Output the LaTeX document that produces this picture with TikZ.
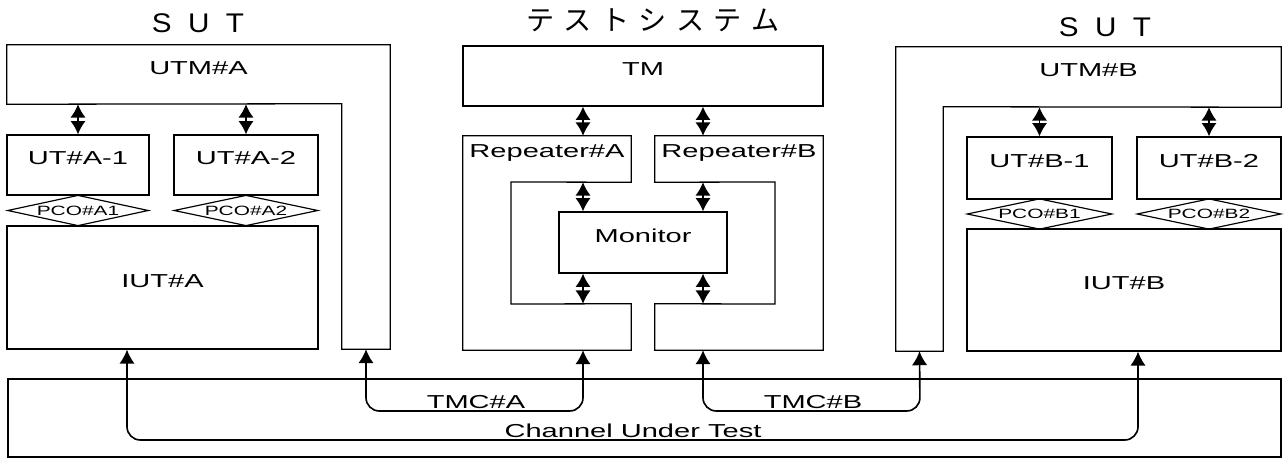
\documentclass[tikz,border=0pt]{standalone}
\usepackage{fontspec}
\setmainfont{Liberation Sans}
\newfontfamily\lblfont[FakeStretch=1.55]{Liberation Sans}
\newfontfamily\ttlfont[FakeStretch=1.1]{Liberation Sans}
\newfontfamily\jpfont{Noto Sans CJK JP}
\usetikzlibrary{shapes.geometric, arrows.meta, fit, calc}

\begin{document}
\begin{tikzpicture}[
    x=0.03cm, y=-0.03cm,
    block/.style={rectangle, draw=black, line width=1.1pt, inner sep=0pt, font=\lblfont\fontsize{16}{19}\selectfont},
    zone/.style={rectangle, draw=none, inner sep=0pt, font=\lblfont\fontsize{16}{19}\selectfont},
    outline/.style={draw=black, line width=1.1pt},
    pco/.style={diamond, draw=black, line width=1pt, inner sep=0pt, minimum height=0.92cm, label={[font=\lblfont\fontsize{11.5}{13}\selectfont]center:#1}},
    title/.style={font=\ttlfont\fontsize{23}{27}\selectfont},
    dblarrow/.style={{Latex[length=4mm,width=4.6mm]}-{Latex[length=4mm,width=4.6mm]}, line width=1.6pt},
    link/.style={{Latex[length=4.2mm,width=4.6mm]}-{Latex[length=4.2mm,width=4.6mm]}, line width=1.4pt, rounded corners=4mm},
    tag/.style={anchor=south, inner sep=2pt, font=\lblfont\fontsize{16}{19}\selectfont}
]
\useasboundingbox (0,0) rectangle (1284,459);

% SUT A
\node[title] (sutA) at (198,23) {S\hspace{14pt}U\hspace{14pt}T};
\node[zone, fit={(7,45)(390,104)}] (utmA) {UTM\#A};
\node[zone, fit={(342,104)(390,349)}] (legA) {};
\draw[outline] (utmA.north west) -- (utmA.north east) -- (legA.south east) -- (legA.south west) -- (legA.north west) -- (utmA.south west) -- cycle;
\node[block, fit={(7,135)(149,195)}] (utA1) {UT\#A-1};
\node[block, fit={(174,135)(318,195)}] (utA2) {UT\#A-2};
\node[pco=PCO\#A1, minimum width=4.23cm] (pcoA1) at (78,210.5) {};
\node[pco=PCO\#A2, minimum width=4.32cm] (pcoA2) at (246,210.5) {};
\node[block, fit={(7,226)(318,349)}] (iutA) {IUT\#A};
\draw[dblarrow] (utmA.south -| utA1.north) -- (utA1.north);
\draw[dblarrow] (utmA.south -| utA2.north) -- (utA2.north);

% Test system
\node[font=\jpfont\fontsize{24}{28}\selectfont] (tsys) at (653,20) {テ\hspace{8pt}ス\hspace{8pt}ト\hspace{8pt}シ\hspace{8pt}ス\hspace{8pt}テ\hspace{8pt}ム};
\node[block, fit={(463,46)(823,106)}] (tm) {TM};
\node[zone, fit={(463,136)(631,182)}] (repAtop) {Repeater\#A};
\node[zone, fit={(463,304)(631,350)}] (repAbot) {};
\draw[outline] (repAtop.north west) -- (repAtop.north east) -- (repAtop.south east) -- (511,182) -- (511,304) -- (repAbot.north east) -- (repAbot.south east) -- (repAbot.south west) -- cycle;
\node[zone, fit={(655,136)(823,182)}] (repBtop) {Repeater\#B};
\node[zone, fit={(655,304)(823,350)}] (repBbot) {};
\draw[outline] (repBtop.north east) -- (repBtop.north west) -- (repBtop.south west) -- (775,182) -- (775,304) -- (repBbot.north west) -- (repBbot.south west) -- (repBbot.south east) -- cycle;
\node[block, fit={(559,212)(727,273)}] (mon) {Monitor};
\coordinate (ax) at (583,0);
\coordinate (bx) at (703,0);
\draw[dblarrow] (tm.south -| ax) -- (repAtop.north -| ax);
\draw[dblarrow] (repAtop.south -| ax) -- (mon.north -| ax);
\draw[dblarrow] (mon.south -| ax) -- (repAbot.north -| ax);
\draw[dblarrow] (tm.south -| bx) -- (repBtop.north -| bx);
\draw[dblarrow] (repBtop.south -| bx) -- (mon.north -| bx);
\draw[dblarrow] (mon.south -| bx) -- (repBbot.north -| bx);

% SUT B
\node[title] (sutB) at (1105,27) {S\hspace{14pt}U\hspace{14pt}T};
\node[zone, fit={(896,47)(1281,107)}] (utmB) {UTM\#B};
\node[zone, fit={(896,107)(943,351)}] (legB) {};
\draw[outline] (utmB.north west) -- (utmB.north east) -- (utmB.south east) -- (legB.north east) -- (legB.south east) -- (legB.south west) -- cycle;
\node[block, fit={(967,137)(1112,199)}] (utB1) {UT\#B-1};
\node[block, fit={(1137,137)(1281,199)}] (utB2) {UT\#B-2};
\node[pco=PCO\#B1, minimum width=4.35cm] (pcoB1) at (1039.5,214) {};
\node[pco=PCO\#B2, minimum width=4.32cm] (pcoB2) at (1209,214) {};
\node[block, fit={(967,229)(1281,351)}] (iutB) {IUT\#B};
\draw[dblarrow] (utmB.south -| utB1.north) -- (utB1.north);
\draw[dblarrow] (utmB.south -| utB2.north) -- (utB2.north);

% Channel layer
\node[block, line width=1.5pt, fit={(8,379)(1281,457)}] (cut) {};
\coordinate (chA) at (127,440);
\coordinate (chB) at (1138,440);
\draw[link] (iutA.south -| chA) -- (chA) -- (chB) -- (iutB.south -| chB);
\node[tag] (chlbl) at (633,440) {Channel Under Test};
\coordinate (tA1) at (366,411);
\coordinate (tA2) at (583,411);
\draw[link] (legA.south) -- (tA1) -- (tA2) -- (repAbot.south -| tA2);
\node[tag] (tmcA) at (476,411) {TMC\#A};
\coordinate (tB1) at (703,411);
\coordinate (tB2) at (920,411);
\draw[link] (repBbot.south -| tB1) -- (tB1) -- (tB2) -- (legB.south);
\node[tag] (tmcB) at (813,411) {TMC\#B};
\end{tikzpicture}
\end{document}
